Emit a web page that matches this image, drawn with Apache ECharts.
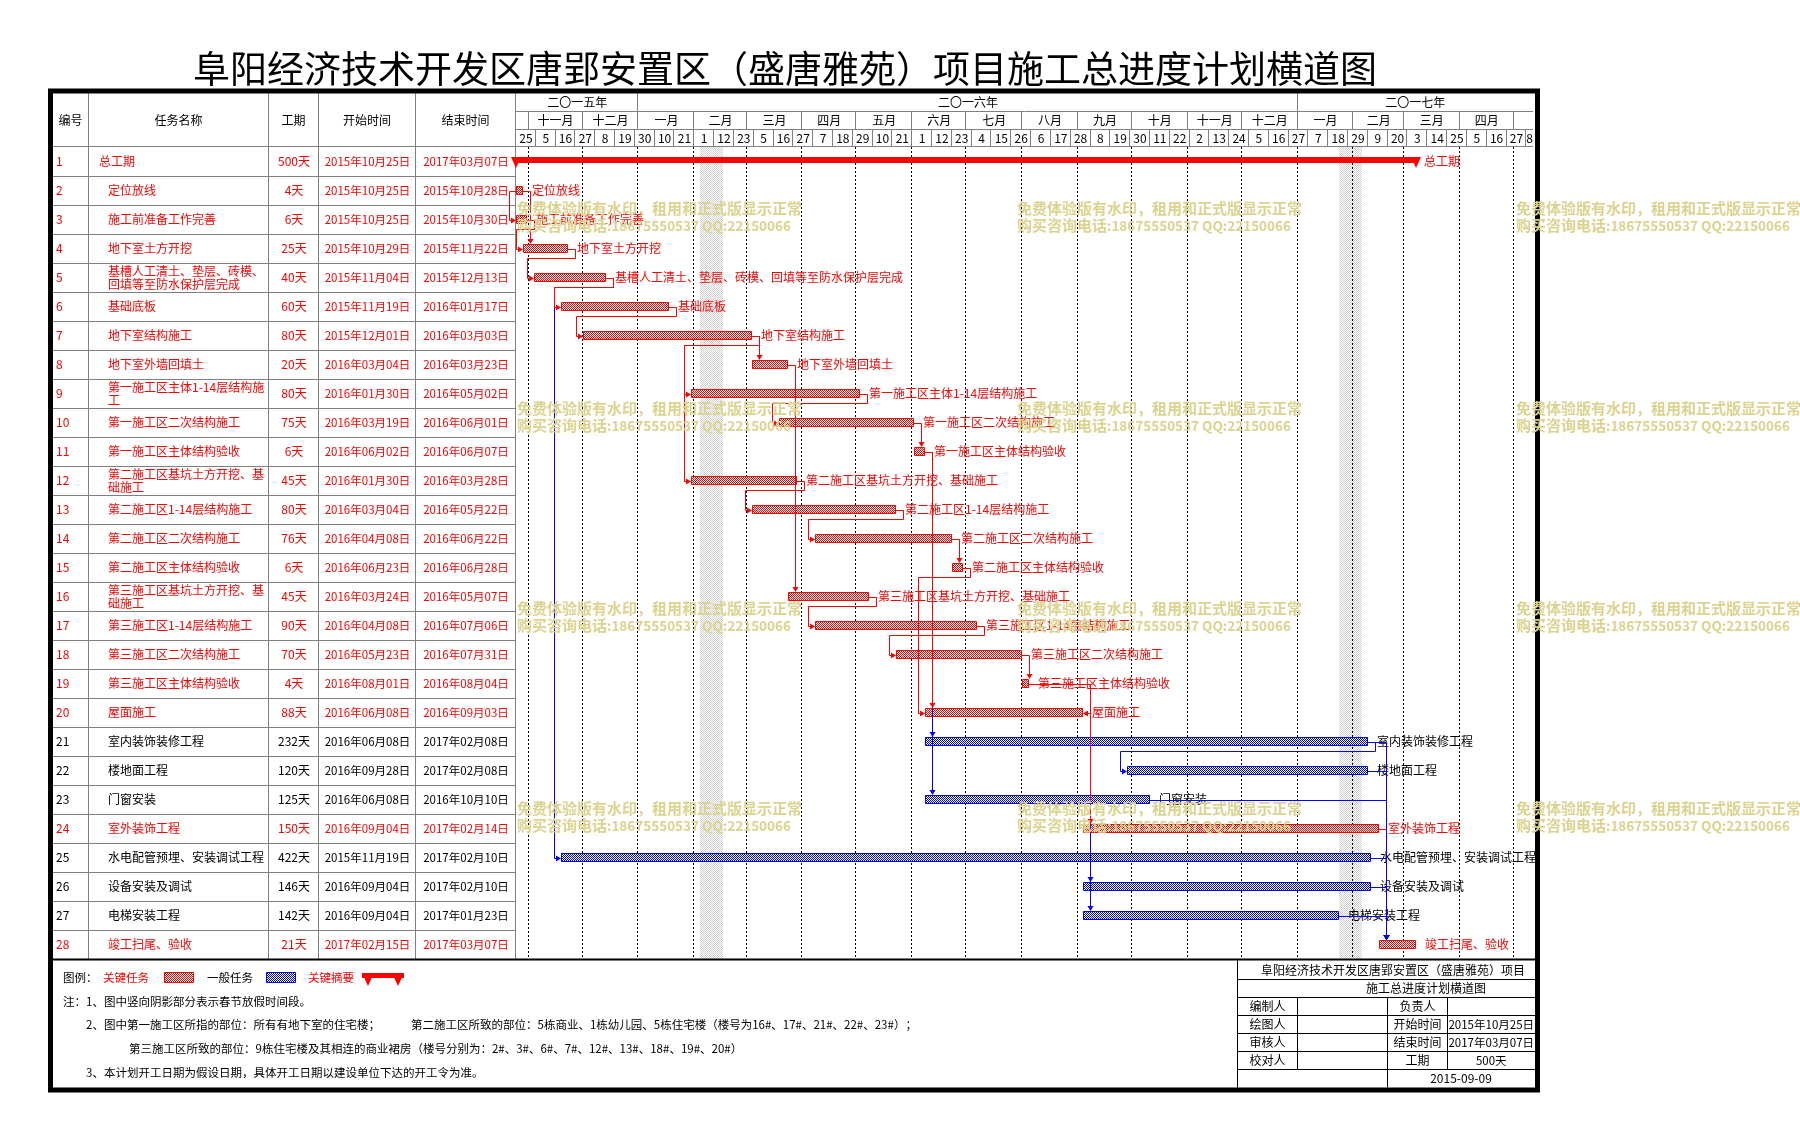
<!DOCTYPE html>
<html>
<head>
<meta charset="utf-8">
<title>施工总进度计划横道图</title>
<script src="https://cdn.jsdelivr.net/npm/echarts@6.0.0/dist/echarts.min.js"></script>
<style>
html,body{margin:0;padding:0;background:#ffffff;}
#chart{width:1800px;height:1139px;}
</style>
</head>
<body>
<div id="chart"></div>
<script>
// ================= DATA =================
const chartTitle = '阜阳经济技术开发区唐郢安置区（盛唐雅苑）项目施工总进度计划横道图';
const headerLabels = ['编号', '任务名称', '工期', '开始时间', '结束时间'];

const taskIds = [1,2,3,4,5,6,7,8,9,10,11,12,13,14,15,16,17,18,19,20,21,22,23,24,25,26,27,28];
const taskNames = [
  '总工期', '定位放线', '施工前准备工作完善', '地下室土方开挖',
  '基槽人工清土、垫层、砖模、回填等至防水保护层完成', '基础底板', '地下室结构施工', '地下室外墙回填土',
  '第一施工区主体1-14层结构施工', '第一施工区二次结构施工', '第一施工区主体结构验收',
  '第二施工区基坑土方开挖、基础施工', '第二施工区1-14层结构施工', '第二施工区二次结构施工', '第二施工区主体结构验收',
  '第三施工区基坑土方开挖、基础施工', '第三施工区1-14层结构施工', '第三施工区二次结构施工', '第三施工区主体结构验收',
  '屋面施工', '室内装饰装修工程', '楼地面工程', '门窗安装', '室外装饰工程',
  '水电配管预埋、安装调试工程', '设备安装及调试', '电梯安装工程', '竣工扫尾、验收'
];
const taskDurations = [500,4,6,25,40,60,80,20,80,75,6,45,80,76,6,45,90,70,4,88,232,120,125,150,422,146,142,21];
const taskStarts = [
  '2015-10-25','2015-10-25','2015-10-25','2015-10-29','2015-11-04','2015-11-19','2015-12-01','2016-03-04',
  '2016-01-30','2016-03-19','2016-06-02','2016-01-30','2016-03-04','2016-04-08','2016-06-23','2016-03-24',
  '2016-04-08','2016-05-23','2016-08-01','2016-06-08','2016-06-08','2016-09-28','2016-06-08','2016-09-04',
  '2015-11-19','2016-09-04','2016-09-04','2017-02-15'
];
const taskEnds = [
  '2017-03-07','2015-10-28','2015-10-30','2015-11-22','2015-12-13','2016-01-17','2016-03-03','2016-03-23',
  '2016-05-02','2016-06-01','2016-06-07','2016-03-28','2016-05-22','2016-06-22','2016-06-28','2016-05-07',
  '2016-07-06','2016-07-31','2016-08-04','2016-09-03','2017-02-08','2017-02-08','2016-10-10','2017-02-14',
  '2017-02-10','2017-02-10','2017-01-23','2017-03-07'
];
const taskCritical = [1,1,1,1,1,1,1,1,1,1,1,1,1,1,1,1,1,1,1,1,0,0,0,1,0,0,0,1];

// [predecessor id, successor id, type]
const taskLinks = [
  [2,3,'SS'],[2,4,'FS'],[3,4,'FS'],[4,5,'FS'],[5,25,'FS'],[5,6,'FS'],[6,7,'FS'],
  [7,8,'FS'],[7,12,'FS'],[7,9,'FS'],[8,16,'FS'],[9,10,'FS'],[10,11,'FS'],
  [11,21,'FS'],[11,23,'FS'],[11,20,'FS'],[12,13,'FS'],[13,14,'FS'],[14,15,'FS'],[15,20,'FS'],
  [16,17,'FS'],[17,18,'FS'],[18,19,'FS'],[19,26,'FS'],[19,27,'FS'],[19,24,'FS'],[19,20,'FF'],
  [21,22,'FS'],[24,28,'FS'],[21,28,'FS'],[22,28,'FS'],[23,28,'FS'],[25,28,'FS'],[26,28,'FS'],[27,28,'FS']
];

const holidayStarts = ['2016-02-04', '2017-01-24'];
const holidayEnds   = ['2016-02-16', '2017-02-05'];

const axisStartDate = '2015-10-25';
const axisDays = 564.7;
const dayTickInterval = 11;
const yearLabels = ['二〇一五年', '二〇一六年', '二〇一七年'];
const monthLabels = ['十一月','十二月','一月','二月','三月','四月','五月','六月','七月','八月','九月','十月','十一月','十二月','一月','二月','三月','四月','五月'];
const dayTickLabels = ['25','5','16','27','8','19','30','10','21','1','12','23','5','16','27','7','18','29','10','21','1','12','23','4','15','26','6','17','28','8','19','30','11','22','2','13','24','5','16','27','7','18','29','9','20','3','14','25','5','16','27','8'];

const legendLabels = ['图例：', '关键任务', '一般任务', '关键摘要'];
const noteLines = [
  '注：1、图中竖向阴影部分表示春节放假时间段。',
  '2、图中第一施工区所指的部位：所有有地下室的住宅楼；',
  '第二施工区所致的部位：5栋商业、1栋幼儿园、5栋住宅楼（楼号为16#、17#、21#、22#、23#）；',
  '第三施工区所致的部位：9栋住宅楼及其相连的商业裙房（楼号分别为：2#、3#、6#、7#、12#、13#、18#、19#、20#）',
  '3、本计划开工日期为假设日期，具体开工日期以建设单位下达的开工令为准。'
];
const infoTitleLines = ['阜阳经济技术开发区唐郢安置区（盛唐雅苑）项目', '施工总进度计划横道图'];
const infoLeftLabels = ['编制人', '绘图人', '审核人', '校对人'];
const infoRightLabels = ['负责人', '开始时间', '结束时间', '工期'];
const compiledDate = '2015-09-09';
const watermarkLine1 = '免费体验版有水印，租用和正式版显示正常';
const watermarkLine2a = '购买咨询电话';
const watermarkLine2b = ':18675550537 QQ:22150066';

// ================= HELPERS =================
const FONT = "'Noto Sans CJK SC', 'Noto Sans', sans-serif";
const RED = '#ff0000', BLUE = '#0000ff', GRID = '#808080', BLACK = '#000000';
const WM = '#dcd38e';
function parseD(s){ const p = s.split('-').map(Number); return Date.UTC(p[0], p[1]-1, p[2]); }
const T0 = parseD(axisStartDate);
function dayIdx(s){ return (parseD(s) - T0) / 86400000; }
function dayIdxYMD(y, m, d){ return (Date.UTC(y, m, d) - T0) / 86400000; }
function fmtDate(s){ const p = s.split('-'); return p[0] + '年' + p[1] + '月' + p[2] + '日'; }
function px(v){ return Math.round(v); }
function makePattern(c1, c2){
  const cv = document.createElement('canvas'); cv.width = 2; cv.height = 2;
  const g = cv.getContext('2d');
  g.fillStyle = c2; g.fillRect(0,0,2,2);
  g.fillStyle = c1; g.fillRect(0,0,1,1); g.fillRect(1,1,1,1);
  return { image: cv, repeat: 'repeat' };
}
const PAT_RED = makePattern(RED, '#ffffff');
const PAT_BLUE = makePattern(BLUE, '#ffffff');
const PAT_GRAY = makePattern('#d0d0d0', '#ffffff');
function txt(text, x, y, o){
  o = o || {};
  const align = o.align || 'left', va = o.va || 'middle';
  const st = { text: text, fill: o.fill || BLACK, fontSize: o.size || 12, fontFamily: FONT,
    fontWeight: o.weight || 'normal', align: align, verticalAlign: va, textAlign: align, textVerticalAlign: va };
  if (o.width) { st.width = o.width; st.overflow = 'break'; st.lineHeight = o.lineHeight || 13; }
  if (o.rich) st.rich = o.rich;
  return { type: 'text', x: x, y: y, z: o.z || 0, silent: true, style: st };
}
function hline(x1, x2, y, col, w, z){ return { type:'line', silent:true, z: z||0, shape:{x1:x1,y1:y,x2:x2,y2:y}, style:{stroke:col, lineWidth:w||1} }; }
function vline(x, y1, y2, col, w, z){ return { type:'line', silent:true, z: z||0, shape:{x1:x,y1:y1,x2:x,y2:y2}, style:{stroke:col, lineWidth:w||1} }; }

// ================= LAYOUT =================
const G = { left: 516, right: 1533, top: 147, bottom: 959 };
const HDR = { top: 93, yearB: 111.5, monthB: 129.5 };
const COLS = [53, 88.5, 268.5, 318.5, 415.5, 515.5];

// ================= SERIES DATA =================
const tableData = taskIds.map((id, i) => [0, i]);
const barData = [];
for (let i = 1; i < taskIds.length; i++) barData.push([dayIdx(taskStarts[i]), dayIdx(taskEnds[i]) + 1, i, taskCritical[i]]);
const summaryData = [[dayIdx(taskStarts[0]), dayIdx(taskEnds[0]) + 1, 0]];
const linkData = taskLinks.map(l => {
  const pi = l[0]-1, si = l[1]-1;
  return [dayIdx(taskStarts[pi]), dayIdx(taskEnds[pi]) + 1, pi, dayIdx(taskStarts[si]), dayIdx(taskEnds[si]) + 1, si,
    l[2] === 'SS' ? 1 : (l[2] === 'FF' ? 2 : 0), (taskCritical[pi] && taskCritical[si]) ? 1 : 0];
});
const holidayData = holidayStarts.map((s, i) => [dayIdx(s), dayIdx(holidayEnds[i]) + 1, 0]);
const yearData = yearLabels.map((l, i) => [Math.max(0, dayIdxYMD(2015 + i, 0, 1)), Math.min(axisDays, dayIdxYMD(2016 + i, 0, 1)), i]);
const monthData = monthLabels.map((l, i) => [dayIdxYMD(2015, 10 + i, 1), Math.min(axisDays, dayIdxYMD(2015, 11 + i, 1)), i]);
const dayData = dayTickLabels.map((l, i) => [i * dayTickInterval, Math.min(axisDays, (i + 1) * dayTickInterval), i]);

// ================= RENDERERS =================
function renderTable(params, api){
  const r = api.value(1);
  const c = api.coord([0, r]);
  const h = api.size([0, 1])[1];
  const yc = c[1];
  const col = taskCritical[r] ? RED : BLACK;
  const ch = [
    txt(String(taskIds[r]), 56, yc, {fill: col}),
    txt(taskNames[r], r === 0 ? 99 : 108, yc, {fill: col, width: 160, lineHeight: 13}),
    txt(taskDurations[r] + '天', 294, yc, {fill: col, align: 'center'}),
    txt(fmtDate(taskStarts[r]), 367.5, yc, {fill: col, align: 'center', size: 11.5}),
    txt(fmtDate(taskEnds[r]), 466, yc, {fill: col, align: 'center', size: 11.5})
  ];
  if (r < taskIds.length - 1) {
    const yb = px(yc + h / 2) + 0.5;
    ch.push(hline(COLS[0], COLS[5], yb, GRID, 1));
  }
  return { type: 'group', children: ch };
}
function renderHoliday(params, api){
  const a = api.coord([api.value(0), 0]), b = api.coord([api.value(1), 0]);
  return { type: 'rect', silent: true, shape: { x: px(a[0]), y: G.top, width: px(b[0]) - px(a[0]), height: G.bottom - G.top }, style: { fill: PAT_GRAY } };
}
function renderYear(params, api){
  const s = api.value(0), e = api.value(1), i = api.value(2);
  const x0 = api.coord([s, 0])[0], x1 = api.coord([e, 0])[0];
  const ch = [txt(yearLabels[i], (x0 + x1) / 2, (HDR.top + HDR.yearB) / 2 + 0.5, {align: 'center'})];
  if (s > 0) ch.push(vline(px(x0) - 0.5, HDR.top, HDR.yearB, GRID));
  return { type: 'group', children: ch };
}
function renderMonth(params, api){
  const s = api.value(0), e = api.value(1), i = api.value(2);
  const x0 = api.coord([s, 0])[0], x1 = api.coord([e, 0])[0];
  const xl = px(x0) - 0.5;
  const ch = [vline(xl, HDR.yearB, HDR.monthB, GRID),
    { type: 'line', silent: true, shape: { x1: xl, y1: G.top, x2: xl, y2: G.bottom }, style: { stroke: BLACK, lineWidth: 1, lineDash: [2, 2] } }];
  if (x1 - x0 > 30) ch.push(txt(monthLabels[i], (x0 + x1) / 2, (HDR.yearB + HDR.monthB) / 2, {align: 'center'}));
  return { type: 'group', children: ch };
}
function renderDay(params, api){
  const s = api.value(0), e = api.value(1), i = api.value(2);
  const x0 = api.coord([s, 0])[0], x1 = api.coord([e, 0])[0];
  const ch = [txt(dayTickLabels[i], (x0 + x1) / 2, (HDR.monthB + G.top) / 2, {align: 'center'})];
  if (s > 0) ch.push(vline(px(x0) - 0.5, HDR.monthB, G.top, GRID));
  return { type: 'group', children: ch };
}
function renderBar(params, api){
  const s = api.value(0), e = api.value(1), r = api.value(2), crit = api.value(3);
  const a = api.coord([s, r]), b = api.coord([e, r]);
  const col = crit ? RED : BLUE;
  const x0 = px(a[0]), x1 = px(b[0]), yc = a[1], y0 = px(yc - 4.5);
  return { type: 'group', children: [
    { type: 'rect', silent: true, shape: { x: x0 + 0.5, y: y0 + 0.5, width: Math.max(1, x1 - x0 - 1), height: 8 },
      style: { fill: crit ? PAT_RED : PAT_BLUE, stroke: col, lineWidth: 1 } },
    txt(taskNames[r], x1 + 9, yc, {fill: crit ? RED : BLACK})
  ]};
}
function renderSummary(params, api){
  const s = api.value(0), e = api.value(1), r = api.value(2);
  const a = api.coord([s, r]), b = api.coord([e, r]);
  const x0 = px(a[0]), x1 = px(b[0]), yc = a[1];
  const top = px(yc - 4.5);
  return { type: 'group', children: [
    { type: 'rect', silent: true, shape: { x: x0, y: top, width: x1 - x0, height: 6 }, style: { fill: RED } },
    { type: 'polygon', silent: true, shape: { points: [[x0 - 5, top], [x0 + 5, top], [x0, top + 11]] }, style: { fill: RED } },
    { type: 'polygon', silent: true, shape: { points: [[x1 - 5, top], [x1 + 5, top], [x1, top + 11]] }, style: { fill: RED } },
    txt(taskNames[r], x1 + 8, yc, {fill: RED})
  ]};
}
function renderLink(params, api){
  const ps = api.value(0), pe = api.value(1), pr = api.value(2), ss = api.value(3), se = api.value(4), sr = api.value(5);
  const type = api.value(6), crit = api.value(7);
  const P0 = api.coord([ps, pr]), P1 = api.coord([pe, pr]), S0 = api.coord([ss, sr]), S1 = api.coord([se, sr]);
  const col = crit ? RED : BLUE;
  const off = 7, al = 5, aw = 3;
  const q = v => px(v) + 0.5;
  const yp = q(P1[1]), ys = q(S0[1]);
  let pts, arrow;
  if (type === 1) {
    const vx = q(Math.min(P0[0], S0[0]) - off), sx = px(S0[0]);
    pts = [[px(P0[0]), yp], [vx, yp], [vx, ys], [sx - al, ys]];
    arrow = [[sx - al, ys - aw], [sx, ys], [sx - al, ys + aw]];
  } else if (type === 2) {
    const vx = q(Math.max(P1[0], S1[0]) + off), ex = px(S1[0]);
    pts = [[px(P1[0]), yp], [vx, yp], [vx, ys], [ex + al, ys]];
    arrow = [[ex + al, ys - aw], [ex, ys], [ex + al, ys + aw]];
  } else if (S0[0] >= P1[0] - 0.5) {
    const vx = q(S0[0] + off), ty = px(S0[1] - 4.5);
    pts = [[px(P1[0]), yp], [vx, yp], [vx, ty - al]];
    arrow = [[vx - aw, ty - al], [vx, ty], [vx + aw, ty - al]];
  } else {
    const mx = q(P1[0] + off), my = q(P1[1] + 9), vx = q(S0[0] - off), sx = px(S0[0]);
    pts = [[px(P1[0]), yp], [mx, yp], [mx, my], [vx, my], [vx, ys], [sx - al, ys]];
    arrow = [[sx - al, ys - aw], [sx, ys], [sx - al, ys + aw]];
  }
  return { type: 'group', children: [
    { type: 'polyline', silent: true, shape: { points: pts }, style: { stroke: col, lineWidth: 1, fill: 'none' } },
    { type: 'polygon', silent: true, shape: { points: arrow }, style: { fill: col } }
  ]};
}

// ================= STATIC GRAPHICS =================
const gfx = [];
// title
gfx.push(txt(chartTitle, 785, 69, {align: 'center', size: 37}));
// table header texts
const hdrCenters = [70.5, 178.5, 293.5, 367, 465.5];
headerLabels.forEach((l, i) => gfx.push(txt(l, hdrCenters[i], 120, {align: 'center'})));
// table column lines
COLS.slice(1).forEach(x => gfx.push(vline(x, HDR.top, G.bottom, GRID)));
// header horizontal lines
gfx.push(hline(G.left, G.right, HDR.yearB, GRID));
gfx.push(hline(G.left, G.right, HDR.monthB, GRID));
gfx.push(hline(COLS[0], G.right, G.top - 0.5, GRID));
// separator between chart and legend area
gfx.push({ type: 'rect', silent: true, shape: { x: 53, y: 958.5, width: 1482, height: 2 }, style: { fill: BLACK }, z: 5 });
// legend row
gfx.push(txt(legendLabels[0], 63, 978, {size: 11.5}));
gfx.push(txt(legendLabels[1], 103, 978, {size: 11.5, fill: RED}));
gfx.push({ type: 'rect', silent: true, shape: { x: 164.5, y: 972.5, width: 29, height: 10 }, style: { fill: PAT_RED, stroke: RED, lineWidth: 1 } });
gfx.push(txt(legendLabels[2], 207, 978, {size: 11.5}));
gfx.push({ type: 'rect', silent: true, shape: { x: 266.5, y: 972.5, width: 29, height: 10 }, style: { fill: PAT_BLUE, stroke: BLUE, lineWidth: 1 } });
gfx.push(txt(legendLabels[3], 308, 978, {size: 11.5, fill: RED}));
gfx.push({ type: 'rect', silent: true, shape: { x: 362, y: 973, width: 42, height: 5 }, style: { fill: RED } });
gfx.push({ type: 'polygon', silent: true, shape: { points: [[362, 973], [374, 973], [368, 986]] }, style: { fill: RED } });
gfx.push({ type: 'polygon', silent: true, shape: { points: [[392, 973], [404, 973], [398, 986]] }, style: { fill: RED } });
// notes
gfx.push(txt(noteLines[0], 63, 1002, {size: 11.5}));
gfx.push(txt(noteLines[1], 86, 1025, {size: 11.5}));
gfx.push(txt(noteLines[2], 411, 1025, {size: 11.5}));
gfx.push(txt(noteLines[3], 129, 1049, {size: 11.5}));
gfx.push(txt(noteLines[4], 86, 1073, {size: 11.5}));
// info table
const IX = [1237.5, 1297.5, 1387.5, 1447.5, 1535];
const IY = [960.5, 979.5, 997.5, 1015.5, 1033.5, 1051.5, 1069.5, 1087.5];
gfx.push(vline(IX[0], 960, 1088, BLACK));
for (let k = 1; k <= 6; k++) gfx.push(hline(IX[0], IX[4], IY[k], BLACK));
gfx.push(vline(IX[1], IY[2], IY[6], BLACK));
gfx.push(vline(IX[2], IY[2], IY[7], BLACK));
gfx.push(vline(IX[3], IY[2], IY[6], BLACK));
gfx.push(txt(infoTitleLines[0], 1261, (IY[0] + IY[1]) / 2));
gfx.push(txt(infoTitleLines[1], 1366, (IY[1] + IY[2]) / 2));
const infoRightValues = ['', fmtDate(taskStarts[0]), fmtDate(taskEnds[0]), taskDurations[0] + '天'];
for (let k = 0; k < 4; k++) {
  const yc = (IY[k + 2] + IY[k + 3]) / 2;
  gfx.push(txt(infoLeftLabels[k], (IX[0] + IX[1]) / 2, yc, {align: 'center'}));
  gfx.push(txt(infoRightLabels[k], (IX[2] + IX[3]) / 2, yc, {align: 'center'}));
  if (infoRightValues[k]) gfx.push(txt(infoRightValues[k], (IX[3] + IX[4]) / 2, yc, {align: 'center', size: 11.5}));
}
gfx.push(txt(compiledDate, 1461, (IY[6] + IY[7]) / 2, {align: 'center'}));
// outer border
gfx.push({ type: 'rect', silent: true, z: 20, shape: { x: 50.5, y: 91, width: 1487, height: 999 }, style: { fill: 'none', stroke: BLACK, lineWidth: 5 } });
// watermarks
const wmX = [517, 1017, 1516], wmY = [208, 408, 608, 808];
const wmRich = { a: { fontSize: 15, fontWeight: 'bold', fill: WM, fontFamily: FONT }, b: { fontSize: 13.5, fontWeight: 'bold', fill: WM, fontFamily: FONT } };
wmY.forEach(y => wmX.forEach(x => {
  gfx.push(txt(watermarkLine1, x, y, {fill: WM, size: 15, weight: 'bold', z: 100}));
  gfx.push(txt('{a|' + watermarkLine2a + '}{b|' + watermarkLine2b + '}', x, y + 17.5, {fill: WM, size: 15, weight: 'bold', z: 100, rich: wmRich}));
}));

// ================= OPTION =================
const chart = echarts.init(document.getElementById('chart'), null, { renderer: 'canvas', width: 1800, height: 1139 });
const option = {
  animation: false,
  backgroundColor: '#ffffff',
  grid: { left: G.left, right: 1800 - G.right, top: G.top, bottom: 1139 - G.bottom, containLabel: false },
  xAxis: { type: 'value', min: 0, max: axisDays, show: false },
  yAxis: { type: 'category', data: taskIds.map(String), inverse: true, show: false },
  graphic: { elements: gfx },
  series: [
    { type: 'custom', name: 'holidays', silent: true, clip: false, z: 1, data: holidayData, encode: { x: [0, 1], y: 2 }, renderItem: renderHoliday },
    { type: 'custom', name: 'months', silent: true, clip: false, z: 2, data: monthData, encode: { x: [0, 1], y: 2 }, renderItem: renderMonth },
    { type: 'custom', name: 'years', silent: true, clip: false, z: 2, data: yearData, encode: { x: [0, 1], y: 2 }, renderItem: renderYear },
    { type: 'custom', name: 'days', silent: true, clip: false, z: 2, data: dayData, encode: { x: [0, 1], y: 2 }, renderItem: renderDay },
    { type: 'custom', name: 'table', silent: true, clip: false, z: 3, data: tableData, encode: { x: 0, y: 1 }, renderItem: renderTable },
    { type: 'custom', name: 'bars', silent: true, clip: false, z: 4, data: barData, encode: { x: [0, 1], y: 2 }, renderItem: renderBar },
    { type: 'custom', name: 'summary', silent: true, clip: false, z: 4, data: summaryData, encode: { x: [0, 1], y: 2 }, renderItem: renderSummary },
    { type: 'custom', name: 'links', silent: true, clip: false, z: 5, data: linkData, encode: { x: [0, 1, 3, 4], y: [2, 5] }, renderItem: renderLink }
  ]
};
chart.setOption(option);
</script>
</body>
</html>
